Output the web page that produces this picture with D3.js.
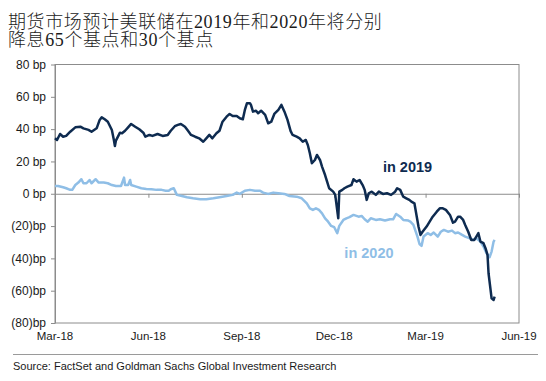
<!DOCTYPE html>
<html><head><meta charset="utf-8">
<script src="https://cdn.jsdelivr.net/npm/d3@7"></script>
<style>
html,body{margin:0;padding:0;background:#fff;}
#wrap{position:relative;width:546px;height:381px;}
svg{display:block;}
.title{position:absolute;left:8px;top:13.4px;margin:0;white-space:pre;
  font-family:'Liberation Serif','Noto Sans CJK SC',serif;font-size:18px;line-height:18px;
  letter-spacing:0.6px;color:#1a1a1a;font-weight:300;}
</style></head>
<body>
<div id="wrap"><svg id="chart" width="546" height="381"></svg></div>
<script>
const titleLines = ["期货市场预计美联储在2019年和2020年将分别", "降息65个基点和30个基点"];
const sourceText = "Source: FactSet and Goldman Sachs Global Investment Research";
const yTicks = [80, 60, 40, 20, 0, -20, -40, -60, -80];
const yTickLabels = ["80 bp","60 bp","40 bp","20 bp","0 bp","(20)bp","(40)bp","(60)bp","(80)bp"];
const xTicks = ["2018-03-01","2018-06-01","2018-09-01","2018-12-01","2019-03-01","2019-06-01"];
const xTickLabels = ["Mar-18","Jun-18","Sep-18","Dec-18","Mar-19","Jun-19"];

const dates2019 = ["2018-03-01","2018-03-03","2018-03-06","2018-03-09","2018-03-12","2018-03-16","2018-03-21","2018-03-26","2018-03-29","2018-04-03","2018-04-06","2018-04-11","2018-04-14","2018-04-16","2018-04-19","2018-04-22","2018-04-26","2018-04-28","2018-04-29","2018-04-30","2018-05-04","2018-05-06","2018-05-09","2018-05-12","2018-05-15","2018-05-19","2018-05-23","2018-05-27","2018-05-29","2018-06-02","2018-06-05","2018-06-10","2018-06-15","2018-06-20","2018-06-23","2018-06-27","2018-06-30","2018-07-03","2018-07-07","2018-07-10","2018-07-13","2018-07-17","2018-07-21","2018-07-25","2018-07-28","2018-07-31","2018-08-03","2018-08-07","2018-08-10","2018-08-13","2018-08-17","2018-08-20","2018-08-23","2018-08-27","2018-08-30","2018-09-02","2018-09-04","2018-09-06","2018-09-09","2018-09-10","2018-09-12","2018-09-15","2018-09-17","2018-09-20","2018-09-24","2018-09-27","2018-09-30","2018-10-03","2018-10-07","2018-10-10","2018-10-13","2018-10-16","2018-10-19","2018-10-21","2018-10-25","2018-10-28","2018-10-31","2018-11-03","2018-11-05","2018-11-07","2018-11-09","2018-11-12","2018-11-14","2018-11-17","2018-11-19","2018-11-22","2018-11-24","2018-11-26","2018-11-30","2018-12-02","2018-12-05","2018-12-06","2018-12-09","2018-12-11","2018-12-14","2018-12-18","2018-12-20","2018-12-23","2018-12-26","2018-12-29","2018-12-31","2019-01-02","2019-01-04","2019-01-07","2019-01-11","2019-01-14","2019-01-18","2019-01-22","2019-01-26","2019-01-30","2019-02-01","2019-02-04","2019-02-07","2019-02-10","2019-02-13","2019-02-15","2019-02-18","2019-02-20","2019-02-22","2019-02-24","2019-02-26","2019-03-02","2019-03-05","2019-03-08","2019-03-12","2019-03-15","2019-03-18","2019-03-21","2019-03-25","2019-03-28","2019-03-30","2019-04-02","2019-04-04","2019-04-07","2019-04-09","2019-04-12","2019-04-15","2019-04-18","2019-04-20","2019-04-22","2019-04-24","2019-04-27","2019-04-29","2019-05-01","2019-05-02","2019-05-04","2019-05-05","2019-05-07","2019-05-08"];
const values2019 = [34.3,33.3,37,35.3,35.8,38.4,41.1,41.5,40.5,39.5,38.4,40.5,45.7,47.3,46.1,44.6,39.5,33.3,29.6,32.9,37.8,37.4,39,41.1,43.2,41.5,39.9,37.8,35.3,36.4,35.8,37,35.8,36.4,39,41.8,42.6,43.2,41.5,39,36.4,35.3,34.3,32.2,34.3,36.4,34.3,37.4,39,44.6,47.7,49.4,48.1,48.1,46.7,46.1,51.9,56,56,55,50.8,51.4,49.8,51.4,48.8,43.6,44.6,49.4,51.9,55,50.8,45.7,38.9,36.4,35.3,34.3,32.2,33.3,30.2,25.1,18.9,20.9,24,20.9,16.8,11.6,7.5,3.4,1.3,-0.7,-15.2,1.3,2.4,3.4,4.4,5.4,9,7.5,8.5,5.4,2.4,-3.8,0.3,1.3,-0.7,1.3,-0.1,0.3,-0.7,1.3,3.4,2.4,-1.8,-2.8,-3.8,-4.9,-5.9,-13.1,-20.3,-25.5,-23.5,-20.3,-17.3,-14.2,-11.1,-9,-9,-10,-13.1,-17.9,-17.3,-14.2,-14.2,-16.2,-19.3,-23.5,-28.6,-28.6,-26.5,-24.4,-29.6,-30.6,-33.7,-37.9,-49.2,-59.5,-64.7,-65.7,-63.7];

const dates2020 = ["2018-03-01","2018-03-04","2018-03-09","2018-03-12","2018-03-16","2018-03-18","2018-03-21","2018-03-24","2018-03-27","2018-03-29","2018-04-01","2018-04-04","2018-04-06","2018-04-10","2018-04-13","2018-04-18","2018-04-22","2018-04-26","2018-04-30","2018-05-05","2018-05-08","2018-05-09","2018-05-12","2018-05-14","2018-05-15","2018-05-20","2018-05-25","2018-05-30","2018-06-04","2018-06-09","2018-06-14","2018-06-18","2018-06-21","2018-06-23","2018-06-26","2018-06-29","2018-07-04","2018-07-09","2018-07-15","2018-07-22","2018-07-28","2018-08-04","2018-08-10","2018-08-17","2018-08-23","2018-08-27","2018-08-30","2018-09-04","2018-09-09","2018-09-14","2018-09-19","2018-09-22","2018-09-27","2018-10-02","2018-10-07","2018-10-13","2018-10-18","2018-10-25","2018-10-30","2018-11-04","2018-11-07","2018-11-10","2018-11-13","2018-11-16","2018-11-19","2018-11-22","2018-11-25","2018-11-28","2018-12-01","2018-12-04","2018-12-06","2018-12-10","2018-12-13","2018-12-16","2018-12-20","2018-12-25","2018-12-28","2018-12-31","2019-01-03","2019-01-06","2019-01-11","2019-01-15","2019-01-20","2019-01-25","2019-01-28","2019-01-31","2019-02-04","2019-02-07","2019-02-12","2019-02-14","2019-02-17","2019-02-21","2019-02-23","2019-02-25","2019-02-27","2019-03-03","2019-03-06","2019-03-09","2019-03-13","2019-03-16","2019-03-19","2019-03-23","2019-03-27","2019-03-30","2019-04-02","2019-04-06","2019-04-09","2019-04-13","2019-04-17","2019-04-20","2019-04-24","2019-04-27","2019-04-30","2019-05-03","2019-05-05","2019-05-07","2019-05-08"];
const values2020 = [4.8,4.8,4,3.4,2.4,2.4,5.4,6.9,9,6.5,6.5,8.5,6.5,9,6.9,6.9,6.5,5.4,4.8,4.8,10,5.4,5.4,8.5,5.4,4.4,3.4,3,2.8,2.4,2.4,1.9,1.9,2.8,3.4,-0.7,-1.4,-2.2,-2.8,-3.4,-3.4,-2.8,-2.2,-1.4,-0.7,0.7,-0.1,1.9,2.4,1.9,1.9,0.7,-0.1,0.7,0.3,-0.1,-1.4,-1.8,-2.8,-5.9,-9,-10,-9,-10,-12.1,-15.2,-17.3,-19.9,-20.7,-24.4,-19.9,-16.2,-15.2,-14.5,-13.1,-14.2,-13.7,-15.8,-17.3,-15.2,-16.2,-15.8,-16.6,-15.8,-15.8,-12.5,-14.2,-16.2,-16.6,-17.3,-19.3,-26.5,-31.1,-32.3,-26.5,-24.4,-25.5,-24,-26.5,-23.5,-22.4,-23.5,-22.8,-24.4,-24,-25.5,-26.5,-27.5,-28.6,-27.5,-29.6,-32.7,-36.8,-39.3,-35.8,-29.6,-28.6];

const labels = [
  {text:"in 2019", date:"2019-01-18", value:13.6, color:"#0e2b50"},
  {text:"in 2020", date:"2018-12-11", value:-39.8, color:"#8fbee6"}
];

const parse = d3.timeParse("%Y-%m-%d");
const svg = d3.select("#chart");
const W = 546, H = 381;
const m = {left:55, right:27, top:64.5, bottom:58};

const x = d3.scaleTime().domain([parse(xTicks[0]), parse(xTicks[xTicks.length-1])]).range([m.left, W - m.right]);
const y = d3.scaleLinear().domain([-80, 80]).range([H - m.bottom, m.top]);

// title: one text block with two lines
d3.select("#wrap").append("div").attr("class", "title").text(titleLines.join("\n"));

// frame
const gray = "#8c8c8c";
svg.append("rect").attr("x", x.range()[0]).attr("y", y.range()[1])
  .attr("width", x.range()[1]-x.range()[0]).attr("height", y.range()[0]-y.range()[1])
  .attr("fill", "none").attr("stroke", gray).attr("stroke-width", 1);

// y axis
const yAxis = d3.axisLeft(y).tickValues(yTicks).tickSize(4).tickSizeOuter(0)
  .tickFormat((d, i) => yTickLabels[i]);
const gy = svg.append("g").attr("transform", `translate(${m.left},0)`).call(yAxis);
gy.select(".domain").attr("stroke", gray);
gy.selectAll(".tick line").attr("stroke", gray);
gy.selectAll(".tick text").attr("x", -9).attr("fill", "#1a1a1a")
  .style("font-family", "'Liberation Sans', Arial, sans-serif").style("font-size", "12px");

// x axis at zero
const xAxis = d3.axisBottom(x).tickValues(xTicks.map(parse)).tickSize(4).tickSizeOuter(0).tickFormat("");
const gx = svg.append("g").attr("transform", `translate(0,${y(0)})`).call(xAxis);
gx.select(".domain").attr("stroke", gray);
gx.selectAll(".tick line").attr("stroke", gray);

// x tick labels below plot
svg.append("g").selectAll("text").data(xTicks).join("text")
  .attr("x", d => x(parse(d))).attr("y", y(-80) + 17)
  .attr("text-anchor", "middle").attr("fill", "#1a1a1a")
  .style("font-family", "'Liberation Sans', Arial, sans-serif").style("font-size", "11.5px")
  .text((d, i) => xTickLabels[i]);

// lines
const line = d3.line().x(d => x(d[0])).y(d => y(d[1])).curve(d3.curveLinear);
const s2020 = dates2020.map((d, i) => [parse(d), values2020[i]]);
const s2019 = dates2019.map((d, i) => [parse(d), values2019[i]]);
svg.append("path").datum(s2020).attr("d", line).attr("fill", "none")
  .attr("stroke", "#8fbee6").attr("stroke-width", 2.5).attr("stroke-linejoin", "round");
svg.append("path").datum(s2019).attr("d", line).attr("fill", "none")
  .attr("stroke", "#0e2b50").attr("stroke-width", 2.5).attr("stroke-linejoin", "round");

// labels
svg.append("g").selectAll("text").data(labels).join("text")
  .attr("x", d => x(parse(d.date))).attr("y", d => y(d.value))
  .attr("fill", d => d.color)
  .style("font-family", "'Liberation Sans', Arial, sans-serif").style("font-size", "14.5px").style("font-weight", "bold")
  .text(d => d.text);

// separator + source
svg.append("line").attr("x1", 13).attr("x2", 538).attr("y1", 354.5).attr("y2", 354.5)
  .attr("stroke", "#9a9a9a").attr("stroke-width", 1);
svg.append("text").attr("x", 13).attr("y", 370).attr("fill", "#1a1a1a")
  .style("font-family", "'Liberation Sans', Arial, sans-serif").style("font-size", "11px")
  .text(sourceText);
</script>
</body></html>
